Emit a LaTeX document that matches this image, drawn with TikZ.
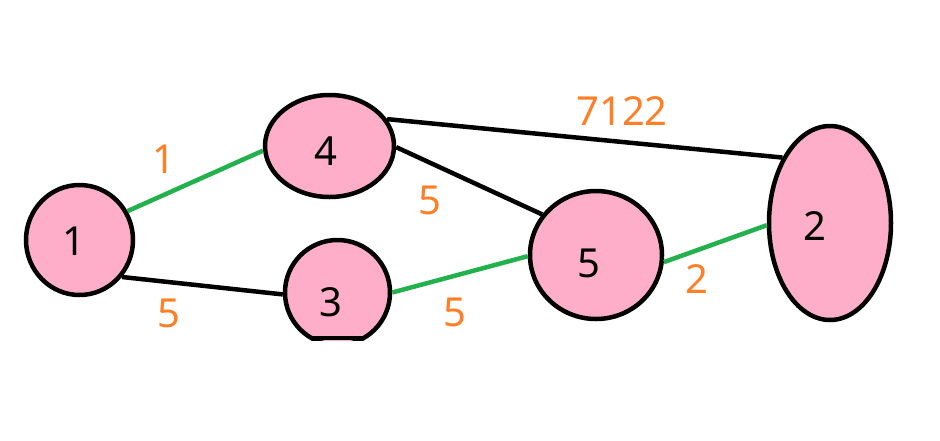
\documentclass[tikz,border=0pt]{standalone}
\usepackage{fontspec}
\setmainfont{Noto Sans}
\usetikzlibrary{shapes.geometric}
\definecolor{pinkfill}{HTML}{FFAEC9}
\definecolor{mstgreen}{HTML}{22B14C}
\definecolor{msorange}{HTML}{FF7F27}
\tikzset{
  vert/.style={ellipse, draw=black, line width=4.5pt, fill=pinkfill, inner sep=0pt},
  vtext/.style={font=\fontsize{40}{48}\selectfont, text=black, inner sep=0pt},
  wlabel/.style={font=\fontsize{40}{48}\selectfont, text=msorange, inner sep=0pt},
  blackedge/.style={draw=black, line width=4.5pt},
  greenedge/.style={draw=mstgreen, line width=4.5pt},
}
\begin{document}
\begin{tikzpicture}[x=1pt,y=-1pt]
\useasboundingbox (0,0) rectangle (940,440);
\node[vert, minimum width=107pt, minimum height=110pt,
  label={[vtext, xshift=-5.5pt, yshift=-1.5pt]center:1}] (n1) at (79.5,240) {};
\node[vert, minimum width=129pt, minimum height=102pt,
  label={[vtext, xshift=-3.5pt, yshift=-5.5pt]center:4}] (n4) at (329.5,146) {};
\begin{scope}
  \clip (250,200) rectangle (420,340);
  \node[vert, minimum width=105pt, minimum height=105pt,
    label={[vtext, xshift=-6.5pt, yshift=-9.5pt]center:3}] (n3) at (337.5,292.5) {};
\end{scope}
\coordinate (n3bl) at (310.5,338);
\coordinate (n3br) at (364.5,338);
\draw[line width=4.5pt] (n3bl) -- (n3br);
\node[vert, minimum width=132pt, minimum height=128pt,
  label={[vtext, xshift=-7pt, yshift=-8pt]center:5}] (n5) at (596,255) {};
\node[vert, minimum width=122pt, minimum height=194pt,
  label={[vtext, xshift=-15pt, yshift=-3.5pt]center:2}] (n2) at (830,223) {};
% edges
\draw[greenedge] (n1.31.6) -- (n4.184.4);
\draw[blackedge] (n1.-41) -- (n3.182.6);
\draw[greenedge] (n3.0) -- (n5.181.7);
\draw[blackedge] (n4.-1.7) -- (n5.143.5);
\draw[blackedge] (n4.25) -- (n2.126.9);
\draw[greenedge] (n5.-6) -- (n2.182);
% weights
\node[wlabel] (w14) at (164,159) {1};
\node[wlabel] (w13) at (169,313) {5};
\node[wlabel] (w45) at (430,200) {5};
\node[wlabel] (w35) at (455,312) {5};
\node[wlabel] (w42) at (622,111) {7122};
\node[wlabel] (w52) at (697,279) {2};
\end{tikzpicture}
\end{document}
